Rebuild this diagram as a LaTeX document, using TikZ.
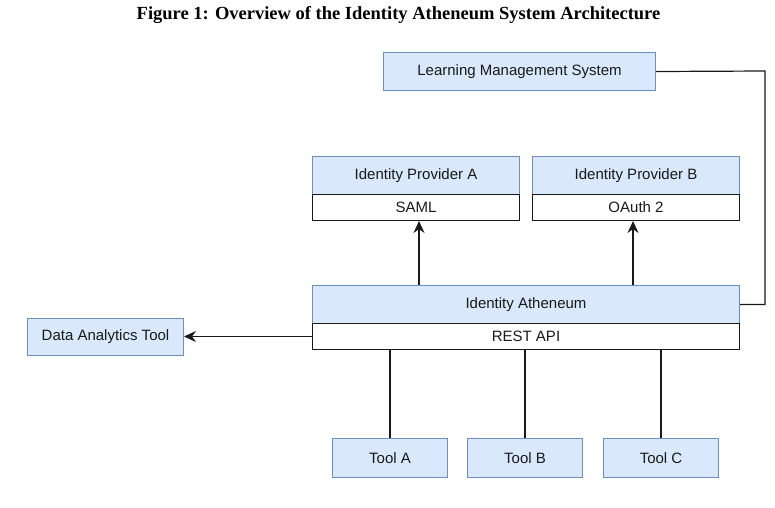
\documentclass[tikz,border=0pt]{standalone}
\usepackage{fontspec}
\setmainfont{Liberation Sans}
\newfontfamily\titlefont{Liberation Serif}
\usetikzlibrary{arrows.meta}
\usetikzlibrary{positioning}

\definecolor{boxfill}{HTML}{DAE8FC}
\definecolor{boxline}{HTML}{6C8EBF}

\tikzset{
  blockbox/.style={rectangle,draw=boxline,fill=boxfill,line width=1pt,anchor=north west,inner sep=0pt,font=\fontsize{15}{18}\selectfont,text=black!90},
  rowbox/.style={rectangle,draw=black!90,fill=white,line width=1pt,anchor=north west,inner sep=0pt,font=\fontsize{15}{18}\selectfont,text=black!90},
  link/.style={black!90,line width=1.2pt},
  arrowlink/.style={link,-{Stealth[length=12pt,width=11pt,inset=4pt]}}
}

\begin{document}
\begin{tikzpicture}[x=1pt,y=-1pt]
\useasboundingbox (0,0) rectangle (775,507);

\node[font=\titlefont\bfseries\fontsize{18.5}{21}\selectfont,text=black,anchor=base] (title) at (398.5,19) {Figure 1: Overview of the Identity Atheneum System Architecture};

\node[blockbox,minimum width=272,minimum height=38] (lms) at (383,52) {Learning Management System};

\node[blockbox,minimum width=207,minimum height=38] (idpa) at (312,156) {Identity Provider A};
\node[rowbox,minimum width=207,minimum height=26] (saml) at (312,194) {SAML};
\node[blockbox,minimum width=207,minimum height=38] (idpb) at (532,156) {Identity Provider B};
\node[rowbox,minimum width=207,minimum height=26] (oauth) at (532,194) {OAuth 2};

\node[blockbox,minimum width=427,minimum height=38] (ath) at (312,285) {Identity Atheneum};
\node[rowbox,minimum width=427,minimum height=26] (rest) at (312,323) {REST API};

\node[blockbox,minimum width=156,minimum height=37] (dat) at (27,318) {Data Analytics Tool};

\node[blockbox,minimum width=115,minimum height=39] (toola) at (332,438) {Tool A};
\node[blockbox,minimum width=115,minimum height=39] (toolb) at (467,438) {Tool B};
\node[blockbox,minimum width=115,minimum height=39] (toolc) at (603,438) {Tool C};

\coordinate (lmsbend) at (765,71);
\draw[link] (lms.east) -- (lmsbend) |- (ath.east);
\draw[arrowlink] ([xshift=3pt]saml.south |- ath.north) -- ([xshift=3pt]saml.south);
\draw[arrowlink] ([xshift=-3pt]oauth.south |- ath.north) -- ([xshift=-3pt]oauth.south);
\draw[arrowlink] (rest.west) -- (dat.east |- rest.west);
\foreach \t in {toola,toolb,toolc}
  \draw[link] (\t.north) -- (\t.north |- rest.south);

\end{tikzpicture}
\end{document}
